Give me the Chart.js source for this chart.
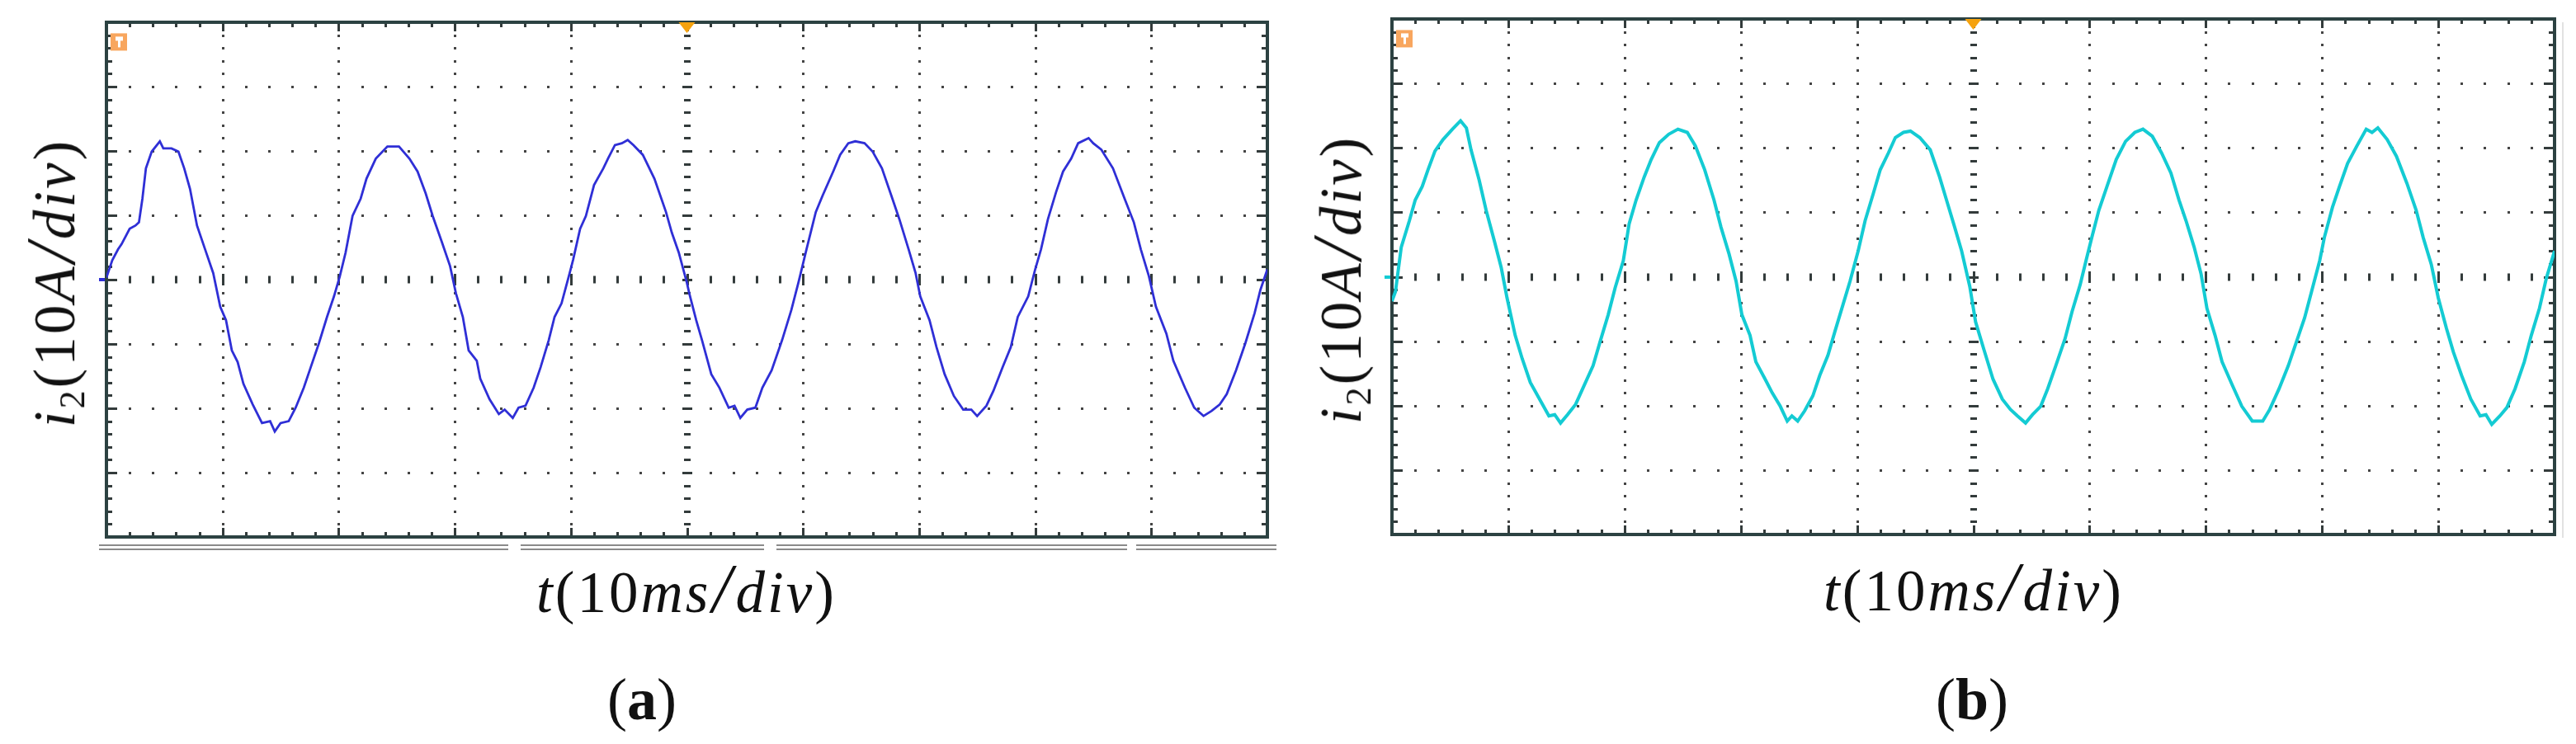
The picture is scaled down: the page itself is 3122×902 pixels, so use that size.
<!DOCTYPE html>
<html>
<head>
<meta charset="utf-8">
<script src="https://cdn.jsdelivr.net/npm/chart.js@4.4.1/dist/chart.umd.min.js"></script>
<style>
  html, body { margin: 0; padding: 0; background: #fff; }
  body { width: 3122px; height: 902px; position: relative; overflow: hidden;
         font-family: "Liberation Serif", "Times New Roman", serif; color: #111; }
  canvas { position: absolute; top: 0; }
  .lbl { position: absolute; white-space: nowrap; font-size: 71px; line-height: 1;
         letter-spacing: 3px; transform: translate(-50%, -50%); }
  .ylab { transform: translate(-50%, -50%) rotate(-90deg); }
  .lbl sub { font-size: 0.62em; vertical-align: -0.28em; line-height: 0; }
  .lbl .sl { font-size: 1.18em; font-style: italic; margin: 0 2px; }
  .cap { font-size: 72px; letter-spacing: 0; }
</style>
</head>
<body>
<canvas id="scopeA" width="1561" height="902" style="left:0"></canvas>
<canvas id="scopeB" width="1561" height="902" style="left:1561px"></canvas>

<div class="lbl ylab" style="left:62px; top:343px"><i>i</i><sub>2</sub>(10<i>A</i><span class="sl">/</span><i>div</i>)</div>
<div class="lbl" style="left:832px; top:714px"><i>t</i>(10<i>ms</i><span class="sl">/</span><i>div</i>)</div>
<div class="lbl cap" style="left:778px; top:848px">(<b>a</b>)</div>

<div class="lbl ylab" style="left:1621px; top:339px"><i>i</i><sub>2</sub>(10<i>A</i><span class="sl">/</span><i>div</i>)</div>
<div class="lbl" style="left:2392px; top:712px"><i>t</i>(10<i>ms</i><span class="sl">/</span><i>div</i>)</div>
<div class="lbl cap" style="left:2390px; top:848px">(<b>b</b>)</div>

<script>
// time in ms (10 ms/div), current in A (10 A/div)
const timeA = [
  0, 0.5, 1.0, 1.3, 2.0, 2.5, 2.8, 3.1, 3.4, 3.9,
  4.6, 4.9, 5.6, 6.2, 6.7, 7.2, 7.8, 8.5, 9.2, 9.8,
  10.3, 10.8, 11.3, 11.8, 12.6, 13.4, 14.1, 14.5, 15.0, 15.7,
  16.3, 17.0, 17.6, 18.3, 19.0, 19.6, 20.1, 20.6, 21.2, 21.9,
  22.4, 23.2, 24.2, 25.2, 26.1, 26.8, 27.5, 28.1, 28.9, 29.6,
  30.1, 30.7, 31.2, 31.9, 32.2, 33.0, 33.8, 34.3, 35.0, 35.5,
  36.1, 36.8, 37.4, 38.1, 38.6, 39.2, 39.9, 40.2, 40.8, 41.3,
  42.0, 42.8, 43.2, 43.8, 44.4, 44.9, 45.4, 46.2, 47.2, 48.2,
  48.7, 49.3, 50.0, 50.2, 50.8, 51.3, 52.1, 52.8, 53.6, 54.1,
  54.6, 55.2, 55.9, 56.5, 57.3, 58.2, 59.0, 59.6, 60.3, 61.1,
  61.7, 62.6, 63.2, 63.9, 64.5, 65.3, 66.0, 66.8, 67.6, 68.3,
  69.1, 69.7, 70.1, 70.9, 71.5, 72.2, 73.0, 73.8, 74.5, 75.0,
  75.8, 76.4, 77.2, 77.9, 78.5, 79.4, 80.0, 80.5, 81.1, 81.8,
  82.4, 83.1, 83.7, 84.6, 85.0, 85.7, 86.7, 87.7, 88.5, 89.1,
  89.8, 90.4, 91.3, 91.9, 92.9, 93.7, 94.5, 95.2, 95.9, 96.5,
  97.3, 98.1, 98.9, 99.4, 100
];
const currentA = [
  0.3, 3.0, 4.7, 5.5, 7.9, 8.4, 8.9, 12.6, 17.3, 19.9,
  21.5, 20.4, 20.4, 19.9, 17.3, 14.1, 8.4, 4.7, 1.0, -4.2,
  -6.3, -11.0, -12.8, -16.2, -19.4, -22.3, -22.0, -23.6, -22.3, -22.0,
  -19.9, -16.8, -13.6, -9.9, -5.8, -2.6, 0.5, 4.2, 9.9, 12.6,
  15.7, 18.8, 20.7, 20.7, 18.8, 16.8, 13.4, 9.9, 5.8, 2.1,
  -2.1, -5.8, -11.0, -12.6, -15.4, -18.6, -20.9, -20.2, -21.5, -19.9,
  -19.6, -16.8, -13.6, -9.4, -5.8, -3.7, 1.0, 3.1, 7.9, 9.9,
  14.7, 17.3, 18.8, 20.9, 21.2, 21.7, 20.9, 19.4, 15.7, 10.5,
  7.3, 4.2, -0.5, -2.1, -6.3, -9.4, -14.7, -16.8, -19.9, -19.6,
  -21.5, -20.2, -19.9, -16.8, -14.1, -9.4, -4.7, -0.5, 4.7, 10.5,
  13.1, 16.8, 19.4, 21.2, 21.5, 21.2, 19.9, 17.3, 13.1, 9.4,
  4.7, 1.0, -2.6, -6.3, -10.5, -14.7, -18.1, -20.2, -20.2, -21.2,
  -19.6, -17.3, -13.6, -10.5, -5.8, -2.6, 1.6, 4.7, 9.4, 13.6,
  16.8, 18.8, 21.2, 22.0, 21.2, 20.2, 17.3, 12.6, 8.9, 4.7,
  0.5, -4.2, -8.4, -12.6, -16.8, -19.9, -21.2, -20.4, -19.4, -17.8,
  -14.1, -9.9, -5.2, -1.6, 1.6
];

const timeB = [
  0, 0.3, 0.8, 1.5, 2.0, 2.6, 3.1, 3.7, 4.4, 5.2,
  5.9, 6.4, 6.8, 7.5, 8.1, 8.8, 9.4, 9.9, 10.6, 11.2,
  11.9, 12.7, 13.5, 14.0, 14.5, 15.1, 15.8, 16.4, 17.3, 17.9,
  18.6, 19.2, 19.9, 20.4, 21.0, 21.7, 22.3, 23.0, 23.8, 24.6,
  25.4, 26.1, 26.9, 27.7, 28.3, 29.0, 29.6, 30.1, 30.8, 31.3,
  32.1, 32.7, 33.4, 34.0, 34.4, 34.9, 35.5, 36.2, 36.8, 37.5,
  38.1, 38.8, 39.4, 40.1, 40.7, 41.4, 42.0, 42.7, 43.3, 44.0,
  44.6, 45.4, 46.3, 47.1, 47.7, 48.4, 49.0, 49.7, 50.2, 50.9,
  51.7, 52.5, 53.2, 53.8, 54.5, 55.1, 55.8, 56.4, 57.1, 57.9,
  58.5, 59.2, 59.7, 60.2, 60.8, 61.5, 62.3, 63.1, 63.9, 64.6,
  65.4, 66.2, 67.0, 67.7, 68.3, 69.0, 69.6, 70.1, 70.8, 71.4,
  72.3, 73.1, 74.0, 74.9, 75.5, 76.3, 77.1, 77.8, 78.5, 79.1,
  79.8, 80.2, 80.9, 81.5, 82.2, 83.0, 83.8, 84.3, 84.8, 85.6,
  86.4, 87.3, 88.1, 88.7, 89.4, 90.0, 90.7, 91.3, 92.0, 92.8,
  93.6, 94.1, 94.6, 95.3, 95.9, 96.6, 97.4, 98.0, 98.7, 99.3,
  100
];
const currentB = [
  -3.8, -2.3, 4.6, 8.7, 11.9, 14.0, 16.6, 19.5, 21.3, 22.9,
  24.2, 23.1, 19.7, 15.0, 10.3, 5.6, 1.4, -3.3, -9.1, -12.7,
  -16.4, -19.0, -21.6, -21.4, -22.7, -21.4, -19.8, -17.4, -13.8, -10.1,
  -5.9, -1.7, 2.5, 8.2, 11.9, 15.5, 18.2, 20.8, 22.1, 22.9,
  22.4, 20.3, 16.6, 11.9, 7.7, 3.5, -0.7, -5.9, -9.1, -13.2,
  -15.9, -18.0, -20.1, -22.4, -21.6, -22.4, -20.8, -18.5, -15.3, -12.2,
  -8.5, -4.3, -0.7, 4.0, 8.7, 12.9, 16.6, 19.2, 21.6, 22.4,
  22.6, 21.6, 19.7, 15.5, 11.9, 7.7, 4.0, -1.5, -7.0, -11.2,
  -15.9, -19.0, -20.6, -21.6, -22.7, -21.4, -20.1, -17.4, -13.8, -9.6,
  -5.4, -1.2, 2.5, 6.1, 10.3, 14.0, 18.2, 21.0, 22.4, 22.9,
  21.8, 19.2, 16.1, 11.9, 8.7, 4.6, 0.4, -4.9, -9.1, -13.2,
  -16.9, -20.1, -22.4, -22.4, -20.6, -17.4, -13.8, -10.1, -6.4, -2.3,
  2.5, 6.1, 10.8, 14.0, 17.6, 20.3, 22.9, 22.4, 23.1, 21.3,
  18.7, 14.5, 10.3, 6.1, 1.9, -3.3, -8.0, -11.7, -15.3, -19.0,
  -21.6, -21.4, -22.9, -21.6, -20.3, -17.4, -13.2, -9.1, -4.9, -0.2,
  4.0
];

// screen graticule: 10 x 8 divisions, 5 minor steps each
const timeRange = [0, 100];
const currentRange = [-40, 40];
const majorStep = 10;
const minorStep = 2;

function steps(lo, hi, step) {
  const out = [];
  for (let v = lo; v <= hi + 1e-9; v += step) out.push(Math.round(v * 100) / 100);
  return out;
}

const graticule = {
  id: 'graticule',
  beforeDatasetsDraw(chart, args, opts) {
    const { ctx, chartArea: a, scales: { x, y } } = chart;
    const tMinor = steps(timeRange[0], timeRange[1], minorStep);
    const iMinor = steps(currentRange[0], currentRange[1], minorStep);
    const isMajor = v => Math.abs(v % majorStep) < 1e-6;
    const tMid = (timeRange[0] + timeRange[1]) / 2;
    const iMid = (currentRange[0] + currentRange[1]) / 2;
    ctx.save();

    // dotted grid lines
    ctx.fillStyle = '#444';
    tMinor.filter(isMajor).forEach(t => {
      if (t === timeRange[0] || t === timeRange[1] || t === tMid) return;
      const px = Math.round(x.getPixelForValue(t));
      iMinor.forEach(v => {
        if (v === currentRange[0] || v === currentRange[1]) return;
        ctx.fillRect(px - 1, Math.round(y.getPixelForValue(v)) - 1, 3, 3);
      });
    });
    iMinor.filter(isMajor).forEach(v => {
      if (v === currentRange[0] || v === currentRange[1] || v === iMid) return;
      const py = Math.round(y.getPixelForValue(v));
      tMinor.forEach(t => {
        if (t === timeRange[0] || t === timeRange[1]) return;
        ctx.fillRect(Math.round(x.getPixelForValue(t)) - 1, py - 1, 3, 3);
      });
    });

    // centre axes with tick marks
    ctx.fillStyle = '#333b3b';
    const cy = Math.round(y.getPixelForValue(iMid));
    tMinor.forEach(t => {
      if (t === timeRange[0] || t === timeRange[1]) return;
      const h = isMajor(t) ? 14 : 9;
      ctx.fillRect(Math.round(x.getPixelForValue(t)) - 1, cy - h / 2, 3, h);
    });
    const cx = Math.round(x.getPixelForValue(tMid));
    iMinor.forEach(v => {
      if (v === currentRange[0] || v === currentRange[1]) return;
      const w = isMajor(v) ? 12 : 8;
      ctx.fillRect(cx - w / 2, Math.round(y.getPixelForValue(v)) - 1, w, 3);
    });

    // border ticks pointing inward
    tMinor.forEach(t => {
      const px = Math.round(x.getPixelForValue(t)) - 1;
      const h = isMajor(t) ? 11 : 6;
      ctx.fillRect(px, a.top, 3, h);
      ctx.fillRect(px, a.bottom - h, 3, h);
    });
    iMinor.forEach(v => {
      const py = Math.round(y.getPixelForValue(v)) - 1;
      const w = isMajor(v) ? 13 : 7;
      ctx.fillRect(a.left, py, w, 3);
      ctx.fillRect(a.right - w, py, w, 3);
    });

    // frame
    ctx.strokeStyle = '#2c4242';
    ctx.lineWidth = 4;
    ctx.strokeRect(a.left, a.top, a.right - a.left, a.bottom - a.top);

    // channel ground marker on the left edge
    ctx.fillStyle = opts.trace;
    ctx.fillRect(a.left - 9, cy - 2, 7, 4);

    // copy artefact: grey double rule under the screen
    if (opts.underline) {
      ctx.fillStyle = '#8a8a8a';
      const gaps = [[616, 631], [926, 941], [1366, 1377]];
      let start = a.left - 9;
      const end = a.right + 11;
      gaps.concat([[end, end]]).forEach(([g0, g1]) => {
        ctx.fillRect(start, a.bottom + 9, g0 - start, 2);
        ctx.fillRect(start, a.bottom + 14, g0 - start, 2);
        start = g1;
      });
    } else {
      // faint edge of the screenshot to the right of the screen
      ctx.fillStyle = '#e2e2e2';
      ctx.fillRect(a.right + 9, a.top + 4, 2, a.bottom - a.top);
    }
    ctx.restore();
  },
  afterDatasetsDraw(chart, args, opts) {
    const { ctx, chartArea: a, scales: { x, y } } = chart;
    ctx.save();
    // trigger position arrow
    const tx = x.getPixelForValue((timeRange[0] + timeRange[1]) / 2);
    ctx.fillStyle = '#f5a20e';
    ctx.beginPath();
    ctx.moveTo(tx - 10, a.top);
    ctx.lineTo(tx + 10, a.top);
    ctx.lineTo(tx, a.top + 13);
    ctx.closePath();
    ctx.fill();
    // channel 1 badge
    const bx = a.left + 5, by = y.getPixelForValue(37) - 10;
    ctx.fillStyle = '#f8a65e';
    ctx.fillRect(bx, by, 20, 21);
    ctx.fillStyle = '#fff';
    ctx.fillRect(bx + 6, by + 4, 9, 5);
    ctx.fillRect(bx + 9, by + 8, 3, 9);
    ctx.restore();
  }
};

function makeScope(id, time, current, color, width, pad, underline) {
  const points = time.map((t, i) => ({ x: t, y: current[i] }));
  return new Chart(document.getElementById(id), {
    type: 'line',
    data: {
      datasets: [{
        data: points,
        borderColor: color,
        borderWidth: width,
        pointRadius: 0,
        tension: 0,
        fill: false,
      }],
    },
    options: {
      responsive: false,
      animation: false,
      devicePixelRatio: 1,
      layout: { padding: pad },
      scales: {
        x: { type: 'linear', min: timeRange[0], max: timeRange[1], display: false },
        y: { type: 'linear', min: currentRange[0], max: currentRange[1], display: false },
      },
      plugins: {
        legend: { display: false },
        tooltip: { enabled: false },
        graticule: { trace: color, underline: underline },
      },
    },
    plugins: [graticule],
  });
}

makeScope('scopeA', timeA, currentA, '#2f2fd6', 2.8,
  { left: 129, right: 25, top: 27, bottom: 251 }, true);
makeScope('scopeB', timeB, currentB, '#14cbd3', 4,
  { left: 126, right: 26, top: 23, bottom: 254 }, false);
</script>
</body>
</html>
